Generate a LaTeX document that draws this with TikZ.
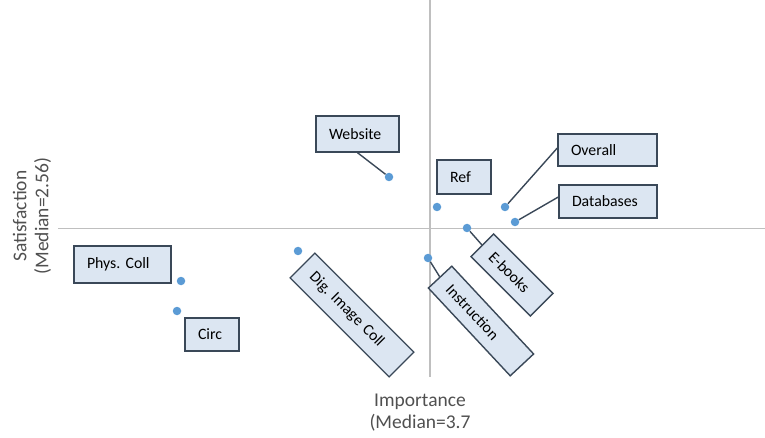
\documentclass[tikz,border=0pt]{standalone}
\usepackage{fontspec}
\setmainfont{Carlito}
\usetikzlibrary{calc}
\definecolor{boxfill}{HTML}{DCE6F2}
\definecolor{boxline}{HTML}{3A4858}
\definecolor{dotblue}{HTML}{5B9BD5}
\definecolor{axisgray}{HTML}{BFBFBF}
\definecolor{axistext}{HTML}{505050}
\frenchspacing
\begin{document}
\begin{tikzpicture}[x=1pt,y=-1pt,
  lbl/.style 2 args={draw=boxline, fill=boxfill, line width=1.4pt,
    font=\fontsize{15.8}{18}\selectfont, text=black,
    inner xsep=13pt, inner ysep=0pt, align=left,
    text width=#1, minimum height=#2},
  pt/.style={fill=dotblue, circle, inner sep=0pt, minimum size=8.5pt},
  leader/.style={draw=boxline, line width=1.4pt},
  axis/.style={draw=axisgray, line width=1.4pt},
  axlabel/.style={text=axistext, font=\fontsize{19.5}{22}\selectfont, align=center}]
\useasboundingbox (0,0) rectangle (765,438);

% quadrant axes through the medians
\coordinate (vtop) at (430,0);
\coordinate (vbot) at (430,377);
\coordinate (hleft) at (58,228.5);
\coordinate (hright) at (765,228.5);
\draw[axis] (vtop) -- (vbot);
\draw[axis] (hleft) -- (hright);

% axis titles
\node[axlabel, rotate=90] (ylab) at (32,216) {Satisfaction\\(Median=2.56)};
\node[axlabel] (xlab) at (420,413) {Importance\\(Median=3.7};

% data labels
\node[lbl={57pt}{36pt}] (web) at (357.5,134) {Website};
\node[lbl={28pt}{34pt}] (ref) at (464,177) {Ref};
\node[lbl={73pt}{32pt}] (overall) at (607.5,150) {Overall};
\node[lbl={72pt}{33pt}] (db) at (608,201.5) {Databases};
\node[lbl={71pt}{37pt}] (phys) at (122.5,264.5) {Phys. Coll};
\node[lbl={28pt}{33pt}] (circ) at (212,334.5) {Circ};
\node[lbl={114pt}{35pt}, rotate=-45] (dig) at (352,315) {Dig. Image Coll};
\node[lbl={94pt}{32pt}, rotate=-47] (instr) at (481,321) {Instruction};
\node[lbl={58pt}{32pt}, rotate=-45] (ebooks) at (512,275) {E-books};

% data points
\node[pt] (pweb) at (389,177) {};
\node[pt] (pref) at (437,207) {};
\node[pt] (poverall) at (505,207) {};
\node[pt] (pdb) at (515,222) {};
\node[pt] (pebooks) at (467,228) {};
\node[pt] (pinstr) at (428,258) {};
\node[pt] (pdig) at (298,251) {};
\node[pt] (pphys) at (181,281) {};
\node[pt] (pcirc) at (177,311) {};

% leader lines
\draw[leader] (web.south) -- (pweb);
\draw[leader] ($(overall.west)+(0,-2)$) -- (poverall);
\draw[leader] ($(db.west)+(0,-4.5)$) -- (pdb);
\draw[leader] (instr.west) -- (pinstr);
\draw[leader] (ebooks.west) -- (pebooks);
\end{tikzpicture}
\end{document}
